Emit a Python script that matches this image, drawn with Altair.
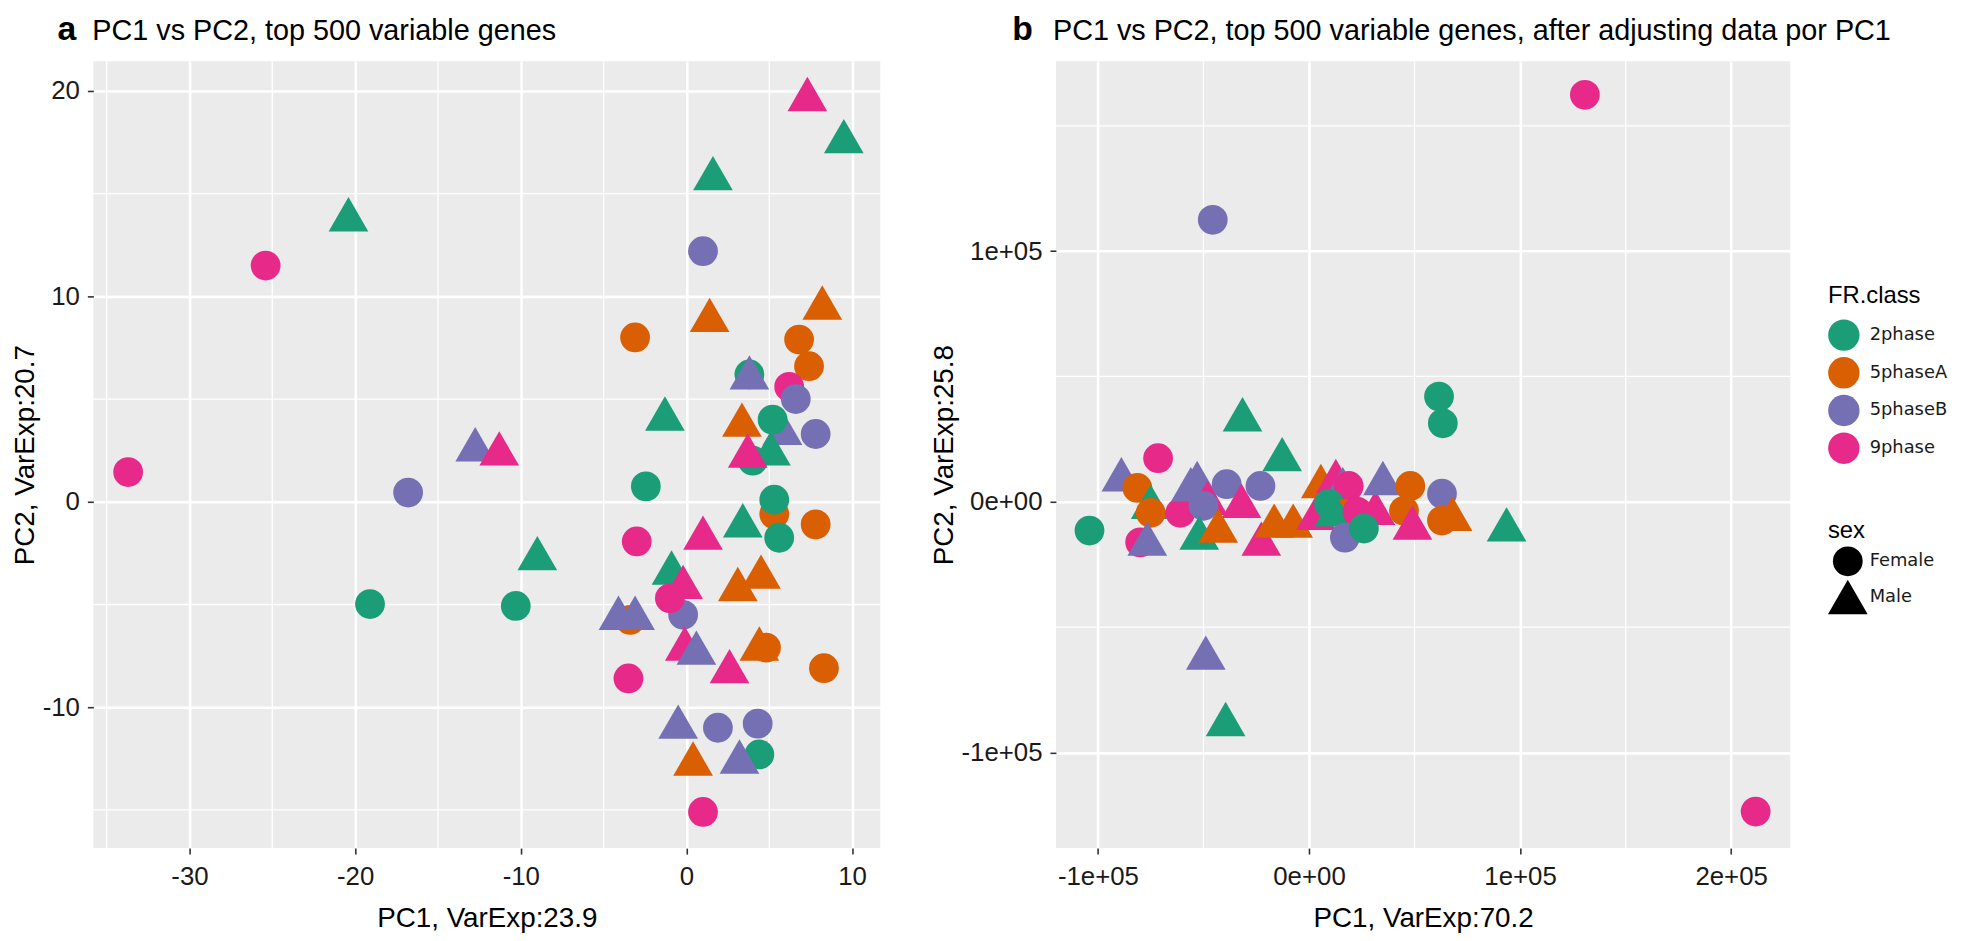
import altair as alt
import pandas as pd

# ---------------- shared categories ----------------
CLASSES = ["2phase", "5phaseA", "5phaseB", "9phase"]
CLASS_COLORS = ["#1B9E77", "#D95F02", "#7570B3", "#E7298A"]
SEXES = ["Female", "Male"]
SEX_SHAPES = ["circle", "triangle-up"]
SEX_SIZES = [900, 1600]

# ---------------- panel a data ----------------
a_pc1 = [-33.7, -25.4, -20.4, -16.8, -12.75, -11.3, -19.1, -10.3, -9.0, 7.3,
         9.5, 1.6, 1.0, 1.4, 8.2, -3.1, 6.8, 7.4, 3.8, 3.8,
         6.2, 6.6, -1.3, 5.8, 5.2, 3.35, 7.8, 5.1, 4.0, 3.7,
         -2.45, 5.3, 5.3, 3.4, 7.8, 5.6, -3.0, 1.0, -0.9, -0.2,
         3.1, 4.5, -0.2, -1.0, -3.4, -4.1, -3.1, -0.1, 0.6, 2.6,
         4.4, 4.8, 8.3, -3.5, -0.5, 1.9, 4.3, 4.4, 0.4, 3.2, 1.0]
a_pc2 = [1.45, 11.5, 14.0, 0.45, 2.8, 2.6, -4.98, -5.07, -2.5, 19.85,
         17.8, 16.0, 12.2, 9.1, 9.7, 8.0, 7.9, 6.6, 6.2, 6.3,
         5.6, 5.0, 4.3, 3.6, 4.0, 4.0, 3.3, 2.6, 2.0, 2.5,
         0.75, -0.6, 0.1, -0.9, -1.1, -1.75, -1.93, -1.5, -3.2, -3.9,
         -4.0, -3.4, -5.5, -4.7, -5.75, -5.4, -5.4, -6.9, -7.1, -8.0,
         -6.9, -7.1, -8.1, -8.6, -10.7, -11.0, -10.8, -12.3, -12.5, -12.4, -15.1]
a_class = ["9phase", "9phase", "2phase", "5phaseB", "5phaseB", "9phase", "2phase", "2phase", "2phase", "9phase",
           "2phase", "2phase", "5phaseB", "5phaseA", "5phaseA", "5phaseA", "5phaseA", "5phaseA", "2phase", "5phaseB",
           "9phase", "5phaseB", "2phase", "5phaseB", "2phase", "5phaseA", "5phaseB", "2phase", "2phase", "9phase",
           "2phase", "5phaseA", "2phase", "2phase", "5phaseA", "2phase", "9phase", "9phase", "2phase", "9phase",
           "5phaseA", "5phaseA", "5phaseB", "9phase", "5phaseA", "5phaseB", "5phaseB", "9phase", "5phaseB", "9phase",
           "5phaseA", "5phaseA", "5phaseA", "9phase", "5phaseB", "5phaseB", "5phaseB", "2phase", "5phaseA", "5phaseB", "9phase"]
a_sex = ["Female", "Female", "Male", "Female", "Male", "Male", "Female", "Female", "Male", "Male",
         "Male", "Male", "Female", "Male", "Male", "Female", "Female", "Female", "Female", "Male",
         "Female", "Female", "Male", "Male", "Female", "Male", "Female", "Male", "Female", "Male",
         "Female", "Female", "Female", "Male", "Female", "Female", "Female", "Male", "Male", "Male",
         "Male", "Male", "Female", "Female", "Female", "Male", "Male", "Male", "Male", "Male",
         "Male", "Female", "Female", "Female", "Male", "Female", "Female", "Female", "Male", "Male", "Female"]

a_x_domain = [-35.8, 11.7]
a_y_domain = [-16.86, 21.45]
a_x_ticks = [-30, -20, -10, 0, 10]
a_x_labels = ["-30", "-20", "-10", "0", "10"]
a_y_ticks = [-10, 0, 10, 20]
a_y_labels = ["-10", "0", "10", "20"]
a_x_minor = [-35, -25, -15, -5, 5]
a_y_minor = [-15, -5, 5, 15]

# ---------------- panel b data ----------------
b_pc1 = [130700, 211600, -45600, -31500, -12700, 61600, 63400, -71500, -88900, -81300,
         -75000, -75000, -104000, -80000, -76600, -61000, -53000, -56000, -48000, -50000,
         -39000, -32000, -23000, -52000, -43000, -22600, -16500, -7500, 5600, 12700,
         16000, 18800, 3300, 9500, 16000, 12000, 31500, 23000, 17000, 26000,
         35000, 48000, 45000, 49000, 63000, 63000, 68000, 93600, -48900, -39500]
b_pc2 = [162400, -123600, 112500, 34900, 19000, 42000, 31300, 17400, 11000, 5500,
         0, -4400, -11500, -16200, -14700, -4400, 9500, 7000, 1600, -1600,
         7000, 400, 6300, -12300, -9500, -14700, -7500, -7500, 8300, 10300,
         7000, 6300, -4400, -800, -4800, -3000, -2400, -4000, -14300, -10700,
         9500, 6300, -3600, -8300, 3200, -7500, -4800, -9000, -60200, -86700]
b_class = ["9phase", "9phase", "5phaseB", "2phase", "2phase", "2phase", "2phase", "9phase", "5phaseB", "5phaseA",
           "2phase", "5phaseA", "2phase", "9phase", "5phaseB", "9phase", "5phaseB", "5phaseB", "9phase", "5phaseB",
           "5phaseB", "9phase", "5phaseB", "2phase", "5phaseA", "9phase", "5phaseA", "5phaseA", "5phaseA", "9phase",
           "5phaseB", "9phase", "9phase", "2phase", "5phaseA", "2phase", "9phase", "9phase", "5phaseB", "2phase",
           "5phaseB", "5phaseA", "5phaseA", "9phase", "5phaseB", "5phaseA", "5phaseA", "2phase", "5phaseB", "2phase"]
b_sex = ["Female", "Female", "Female", "Male", "Male", "Female", "Female", "Female", "Male", "Female",
         "Male", "Female", "Female", "Female", "Male", "Female", "Male", "Male", "Male", "Female",
         "Female", "Male", "Female", "Male", "Male", "Male", "Male", "Male", "Male", "Male",
         "Male", "Female", "Male", "Female", "Female", "Male", "Male", "Female", "Female", "Female",
         "Male", "Female", "Female", "Male", "Female", "Female", "Male", "Male", "Male", "Male"]

b_x_domain = [-119900, 228000]
b_y_domain = [-138200, 175800]
b_x_ticks = [-100000, 0, 100000, 200000]
b_x_labels = ["-1e+05", "0e+00", "1e+05", "2e+05"]
b_y_ticks = [-100000, 0, 100000]
b_y_labels = ["-1e+05", "0e+00", "1e+05"]
b_x_minor = [-50000, 50000, 150000]
b_y_minor = [-50000, 50000, 150000]

title_a = "PC1 vs PC2, top 500 variable genes"
title_b = "PC1 vs PC2, top 500 variable genes, after adjusting data por PC1"

FONT = "Liberation Sans"
PLOT_H = 793
HEAD_Y = -21


def label_expr(values, labels):
    expr = "''"
    for v, l in reversed(list(zip(values, labels))):
        expr = f"datum.value == {v} ? '{l}' : ({expr})"
    return expr


def axis(values, labels, title, label_pad, title_pad):
    return alt.Axis(
        values=values, labelExpr=label_expr(values, labels), title=title,
        grid=True, gridColor="white", gridWidth=2.6, domain=False,
        tickColor="#333333", tickSize=6, tickWidth=1.6,
        labelFont=FONT, labelFontSize=26, labelColor="#1a1a1a",
        labelPadding=label_pad, labelFlush=False, labelOverlap=False,
        titleFont=FONT, titleFontSize=28, titleFontWeight="normal",
        titleColor="black", titlePadding=title_pad,
    )


def panel(pc1, pc2, cls, sex, xdom, ydom, xt, xl, yt, yl, xminor, yminor,
          xtitle, ytitle, width, letter, letter_dx, title, title_dx, legends):
    df = pd.DataFrame({"pc1": pc1, "pc2": pc2, "cls": cls, "sex": sex})
    xs = alt.Scale(domain=xdom, nice=False, zero=False)
    ys = alt.Scale(domain=ydom, nice=False, zero=False)
    x_axis = axis(xt, xl, xtitle, 10, 15)
    y_axis = axis(yt, yl, ytitle, 8, 3)

    minor_x = alt.Chart(pd.DataFrame({"v": xminor})).mark_rule(
        color="white", strokeWidth=1.3
    ).encode(x=alt.X("v:Q", scale=xs, axis=x_axis, title=xtitle))
    minor_y = alt.Chart(pd.DataFrame({"v": yminor})).mark_rule(
        color="white", strokeWidth=1.3
    ).encode(y=alt.Y("v:Q", scale=ys, axis=y_axis, title=ytitle))

    if legends:
        color_leg = alt.Legend(
            title="FR.class", orient="none", legendX=778, legendY=225,
            symbolType="circle", symbolSize=1000, symbolStrokeWidth=0,
            titleFont=FONT, titleFontSize=24, titleFontWeight="normal",
            titleColor="black", titlePadding=11,
            labelFont="DejaVu Sans", labelFontSize=18, labelColor="#1a1a1a",
            labelOffset=10, rowPadding=6, padding=0,
        )
        sex_leg = alt.Legend(
            title="sex", orient="none", legendX=778, legendY=461,
            symbolFillColor="black", symbolStrokeColor="black", symbolStrokeWidth=0,
            symbolOpacity=1,
            titleFont=FONT, titleFontSize=24, titleFontWeight="normal",
            titleColor="black", titlePadding=4,
            labelFont="DejaVu Sans", labelFontSize=18, labelColor="#1a1a1a",
            labelOffset=2, rowPadding=1, padding=0,
        )
    else:
        color_leg = None
        sex_leg = None

    points = alt.Chart(df).mark_point(filled=True, opacity=1, strokeWidth=0).encode(
        x=alt.X("pc1:Q", scale=xs, axis=x_axis, title=xtitle),
        y=alt.Y("pc2:Q", scale=ys, axis=y_axis, title=ytitle),
        color=alt.Color("cls:N", scale=alt.Scale(domain=CLASSES, range=CLASS_COLORS),
                        legend=color_leg),
        shape=alt.Shape("sex:N", scale=alt.Scale(domain=SEXES, range=SEX_SHAPES),
                        legend=sex_leg),
        size=alt.Size("sex:N", scale=alt.Scale(type="ordinal", domain=SEXES, range=SEX_SIZES),
                      legend=sex_leg),
    )

    letter_mark = alt.Chart(pd.DataFrame({"t": [letter]})).mark_text(
        font=FONT, fontSize=34, fontWeight="bold", align="left",
        baseline="alphabetic", color="black"
    ).encode(text="t:N", x=alt.value(letter_dx), y=alt.value(HEAD_Y))
    title_mark = alt.Chart(pd.DataFrame({"t": [title]})).mark_text(
        font=FONT, fontSize=29, align="left", baseline="alphabetic", color="black"
    ).encode(text="t:N", x=alt.value(title_dx), y=alt.value(HEAD_Y))

    return alt.layer(minor_x, minor_y, points, letter_mark, title_mark).properties(
        width=width, height=PLOT_H
    )


pa = panel(a_pc1, a_pc2, a_class, a_sex, a_x_domain, a_y_domain,
           a_x_ticks, a_x_labels, a_y_ticks, a_y_labels, a_x_minor, a_y_minor,
           "PC1, VarExp:23.9", "PC2, VarExp:20.7", 793, "a", -36, title_a, -1, False)
pb = panel(b_pc1, b_pc2, b_class, b_sex, b_x_domain, b_y_domain,
           b_x_ticks, b_x_labels, b_y_ticks, b_y_labels, b_x_minor, b_y_minor,
           "PC1, VarExp:70.2", "PC2, VarExp:25.8", 740, "b", -44, title_b, -3, True)

chart = alt.hconcat(pa, pb, spacing=177, bounds="flush").resolve_scale(
    color="independent", shape="independent", size="independent"
).properties(
    padding={"left": 3, "top": 2, "right": 5, "bottom": 5}
).configure(
    font=FONT
).configure_view(
    fill="#EBEBEB", stroke=None
)

chart.save("out.html", embed_options={"renderer": "svg", "actions": False})
